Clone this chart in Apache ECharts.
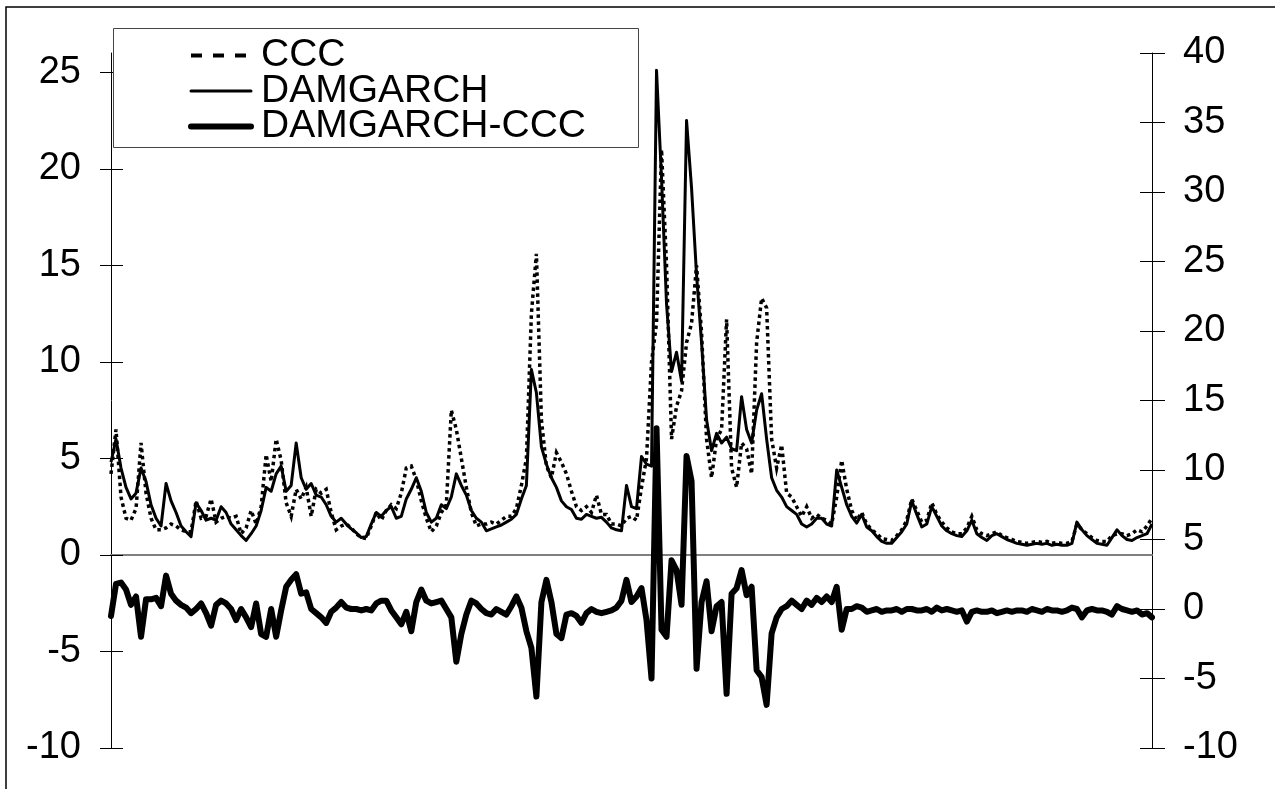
<!DOCTYPE html>
<html>
<head>
<meta charset="utf-8">
<title>CCC vs DAMGARCH</title>
<script src="https://cdn.jsdelivr.net/npm/echarts@6/dist/echarts.min.js"></script>
<style>
  html, body { margin: 0; padding: 0; background: #fff; }
  #chart { width: 1275px; height: 789px; }
</style>
</head>
<body>
<div id="chart"></div>
<script>
// Estimated conditional variances, one value per observation
const ccc = [
  4.2, 6.5, 3.0, 1.9, 1.8, 2.4, 5.8, 3.2, 1.9, 1.3,
  1.3, 1.4, 1.6, 1.5, 1.3, 1.2, 1.2, 2.8, 1.9, 2.0,
  2.9, 1.7, 1.9, 2.0, 1.9, 2.0, 1.1, 1.4, 2.3, 1.6,
  2.5, 5.2, 3.8, 6.0, 4.9, 2.7, 2.0, 3.4, 2.9, 3.5,
  2.0, 3.4, 3.2, 3.4, 2.2, 1.3, 1.5, 1.6, 1.4, 1.1,
  0.9, 0.85, 1.5, 2.2, 1.8, 2.3, 2.6, 2.4, 3.2, 4.5,
  4.6, 3.9, 2.8, 1.9, 1.2, 1.5, 2.2, 2.6, 7.5, 6.5,
  5.0, 3.5, 2.2, 1.5, 1.6, 1.6, 1.7, 1.6, 1.8, 2.0,
  2.0, 2.4, 3.6, 5.0, 12.5, 15.6, 7.0, 4.6, 4.0, 5.3,
  4.8, 4.2, 3.3, 2.5, 2.3, 2.5, 2.2, 3.1, 2.1, 2.1,
  1.6, 1.6, 1.5, 1.9, 2.0, 1.8, 3.5, 5.0, 10.0, 12.0,
  21.0, 15.0, 6.0, 7.7, 8.5, 11.0, 12.0, 15.0, 11.5, 6.0,
  4.0, 6.0, 6.5, 12.2, 4.5, 3.5, 5.8, 5.5, 4.2, 11.0,
  13.3, 12.8, 6.0, 4.5, 5.7, 3.2, 3.0, 2.5, 2.0, 2.5,
  1.9, 2.1, 1.9, 1.8, 1.6, 3.0, 4.9, 3.4, 2.3, 1.8,
  2.2, 1.6, 1.3, 1.1, 0.85, 0.8, 0.75, 1.0, 1.3, 1.8,
  2.9, 2.3, 1.7, 1.8, 2.7, 2.1, 1.7, 1.4, 1.2, 1.1,
  1.1, 1.4, 2.0, 1.3, 1.1, 1.0, 1.1, 1.2, 1.0, 0.9,
  0.8, 0.7, 0.65, 0.6, 0.65, 0.7, 0.65, 0.7, 0.6, 0.65,
  0.6, 0.6, 0.7, 1.6, 1.3, 1.1, 0.9, 0.75, 0.7, 0.7,
  1.0, 1.1, 1.1, 1.0, 1.1, 1.3, 1.2, 1.5, 1.9
];

const damgarch = [
  4.8, 6.0, 4.5, 3.5, 2.9, 3.2, 4.5, 3.8, 2.6, 1.9,
  1.5, 3.7, 2.8, 2.2, 1.5, 1.2, 0.95, 2.7, 2.3, 1.8,
  1.9, 1.8, 2.5, 2.2, 1.6, 1.3, 1.0, 0.75, 1.1, 1.5,
  2.3, 3.5, 3.3, 4.2, 4.6, 3.3, 3.6, 5.8, 4.0, 3.4,
  3.7, 3.1, 3.0, 2.6, 2.0, 1.7, 1.9, 1.6, 1.35, 1.15,
  0.9, 0.95, 1.6, 2.2, 2.0, 2.3, 2.5, 1.9, 2.0, 2.9,
  3.4, 4.0, 3.3, 2.2, 1.7, 1.9, 2.6, 2.4, 3.0, 4.2,
  3.6, 3.1, 2.3, 1.9, 1.7, 1.25, 1.35, 1.45, 1.55, 1.7,
  1.85, 2.1, 2.9, 3.6, 9.6, 8.4, 5.6, 4.7, 4.0, 3.5,
  2.8, 2.5, 2.35, 1.9, 1.85, 2.1, 2.0, 1.9, 1.95, 1.7,
  1.4, 1.3, 1.25, 3.6, 2.5, 2.4, 5.1, 4.7, 4.6, 25.1,
  19.5, 13.0, 9.5, 10.5, 9.0, 22.5, 19.0, 14.5, 11.0, 7.0,
  5.4, 6.3, 5.8, 6.1, 5.5, 5.4, 8.2, 6.5, 5.8, 7.5,
  8.35, 6.0, 4.0, 3.35, 3.0, 2.5, 2.3, 2.1, 1.6, 1.45,
  1.6, 1.9, 1.9, 1.6, 1.5, 4.4, 3.5, 2.6, 2.0, 1.65,
  2.1, 1.45, 1.25, 0.95, 0.7, 0.6, 0.6, 0.9, 1.2, 1.6,
  2.8, 2.1, 1.45, 1.6, 2.5, 2.0, 1.5, 1.25, 1.1, 1.0,
  0.95, 1.25, 1.8, 1.1, 0.9, 0.75, 1.0, 1.1, 0.95, 0.8,
  0.7, 0.6, 0.55, 0.5, 0.55, 0.6, 0.55, 0.6, 0.5, 0.55,
  0.5, 0.5, 0.6, 1.7, 1.3, 1.0, 0.8, 0.6, 0.55, 0.5,
  0.9, 1.3, 1.0, 0.8, 0.75, 0.9, 1.0, 1.1, 1.6
];

// Difference DAMGARCH - CCC, plotted against the right-hand axis
const difference = [
  -0.5, 1.8, 1.9, 1.4, 0.3, 0.9, -2.0, 0.7, 0.7, 0.8,
  0.2, 2.4, 1.1, 0.6, 0.3, 0.1, -0.3, 0.0, 0.4, -0.3,
  -1.2, 0.3, 0.6, 0.4, 0.0, -0.8, 0.0, -0.6, -1.3, 0.4,
  -1.8, -2.0, 0.0, -2.0, -0.1, 1.6, 2.1, 2.5, 1.1, 1.2,
  0.0, -0.3, -0.6, -1.0, -0.2, 0.1, 0.5, 0.1, 0.0, 0.0,
  -0.1, 0.0, -0.1, 0.4, 0.6, 0.6, -0.1, -0.6, -1.1, -0.2,
  -1.6, 0.5, 1.4, 0.6, 0.4, 0.5, 0.6, 0.0, -0.6, -3.8,
  -1.8, -0.4, 0.6, 0.4, 0.0, -0.3, -0.4, 0.0, -0.2, -0.4,
  0.2, 0.9, 0.1, -1.6, -2.8, -6.3, 0.5, 2.1, 0.5, -1.8,
  -2.1, -0.4, -0.3, -0.5, -1.0, -0.3, 0.0, -0.2, -0.3, -0.2,
  -0.1, 0.1, 0.6, 2.1, 0.5, 0.9, 1.5, -0.8, -5.0, 13.0,
  -1.5, -2.0, 3.5, 2.8, 0.3, 11.0, 9.2, -4.3, 0.5, 2.0,
  -1.6, 0.2, 0.5, -6.1, 1.1, 1.5, 2.8, 1.0, 1.6, -4.4,
  -4.9, -6.9, -1.75, -0.6, 0.0, 0.2, 0.6, 0.3, 0.0, 0.6,
  0.3, 0.8, 0.5, 0.9, 0.5, 1.6, -1.5, 0.0, 0.0, 0.2,
  0.1, -0.2, -0.1, 0.0, -0.2, -0.1, -0.1, 0.0, -0.2, 0.0,
  0.0, -0.1, -0.1, 0.0, -0.2, 0.1, -0.1, 0.0, -0.1, -0.2,
  -0.1, -0.9, -0.2, -0.1, -0.2, -0.2, -0.1, -0.3, -0.2, -0.1,
  -0.2, -0.1, -0.1, -0.2, 0.0, -0.1, -0.2, 0.0, -0.1, -0.1,
  -0.2, -0.1, 0.1, 0.0, -0.6, -0.1, 0.0, -0.1, -0.1, -0.2,
  -0.4, 0.2, 0.0, -0.1, -0.2, -0.1, -0.4, -0.3, -0.6
];

const leftTicks = [-10, -5, 0, 5, 10, 15, 20, 25];

const observations = damgarch.map((_, i) => i + 1);

const FONT = "'Liberation Sans', Arial, sans-serif";
const chart = echarts.init(document.getElementById('chart'), null, { renderer: 'canvas' });

const labelStyle = { color: '#000', fontSize: 38, fontFamily: FONT };
const hiddenSymbol = { opacity: 0 };

chart.setOption({
  animation: false,
  backgroundColor: '#fff',
  grid: { left: 111, right: 123, top: 53, bottom: 41, containLabel: false },
  graphic: [
    { type: 'rect', shape: { x: 6, y: 7, width: 1300, height: 820 },
      style: { fill: null, stroke: '#000', lineWidth: 1.5 }, silent: true, z: 0 },
    { type: 'rect', shape: { x: 113.5, y: 28.5, width: 525, height: 119 },
      style: { fill: '#fff', stroke: '#444', lineWidth: 1 }, silent: true, z: 5 }
  ],
  legend: {
    orient: 'vertical',
    left: 183,
    top: 31,
    itemWidth: 60,
    itemHeight: 14,
    itemGap: -3.5,
    z: 10,
    textStyle: { color: '#000', fontSize: 39, fontFamily: FONT, lineHeight: 36, padding: [0, 0, 0, 5] },
    data: [
      { name: 'CCC', itemStyle: hiddenSymbol, lineStyle: { width: 4, type: [11, 11], cap: 'butt' } },
      { name: 'DAMGARCH', itemStyle: hiddenSymbol, lineStyle: { width: 3, cap: 'round' } },
      { name: 'DAMGARCH-CCC', itemStyle: hiddenSymbol, lineStyle: { width: 6, cap: 'round' } }
    ]
  },
  xAxis: {
    type: 'category',
    data: observations,
    boundaryGap: false,
    axisLine: { onZero: true, onZeroAxisIndex: 0, lineStyle: { color: '#808080', width: 2 } },
    axisTick: { show: false },
    axisLabel: { show: false },
    splitLine: { show: false }
  },
  yAxis: [
    {
      type: 'value', position: 'left', min: -10, max: 26,
      axisLine: { show: true, onZero: false, lineStyle: { color: '#000', width: 1 } },
      axisTick: { show: true, inside: false, length: 11, customValues: leftTicks, lineStyle: { color: '#000' } },
      axisLabel: { customValues: leftTicks, margin: 30, ...labelStyle },
      splitLine: { show: false }
    },
    {
      type: 'value', position: 'right', min: -10, max: 40, interval: 5,
      axisLine: { show: true, onZero: false, lineStyle: { color: '#000', width: 1 } },
      axisTick: { show: true, inside: false, length: 13, lineStyle: { color: '#000' } },
      axisLabel: { margin: 31, ...labelStyle },
      splitLine: { show: false }
    },
    {
      type: 'value', position: 'left', min: -10, max: 26,
      axisLine: { show: false },
      axisTick: { show: true, inside: true, length: 12, customValues: leftTicks, lineStyle: { color: '#000' } },
      axisLabel: { show: false },
      splitLine: { show: false }
    },
    {
      type: 'value', position: 'right', min: -10, max: 40, interval: 5,
      axisLine: { show: false },
      axisTick: { show: true, inside: true, length: 12, lineStyle: { color: '#000' } },
      axisLabel: { show: false },
      splitLine: { show: false }
    }
  ],
  series: [
    {
      name: 'CCC', type: 'line', yAxisIndex: 0, data: ccc,
      showSymbol: false, symbol: 'none', z: 2,
      lineStyle: { color: '#000', width: 3.5, type: [3.5, 3.5], cap: 'butt', join: 'miter' },
      itemStyle: { color: '#000' }
    },
    {
      name: 'DAMGARCH', type: 'line', yAxisIndex: 0, data: damgarch,
      showSymbol: false, symbol: 'none', z: 3,
      lineStyle: { color: '#000', width: 3, join: 'round' },
      itemStyle: { color: '#000' }
    },
    {
      name: 'DAMGARCH-CCC', type: 'line', yAxisIndex: 1, data: difference,
      showSymbol: false, symbol: 'none', z: 4,
      lineStyle: { color: '#000', width: 6, join: 'round', cap: 'round' },
      itemStyle: { color: '#000' }
    }
  ]
});
</script>
</body>
</html>
